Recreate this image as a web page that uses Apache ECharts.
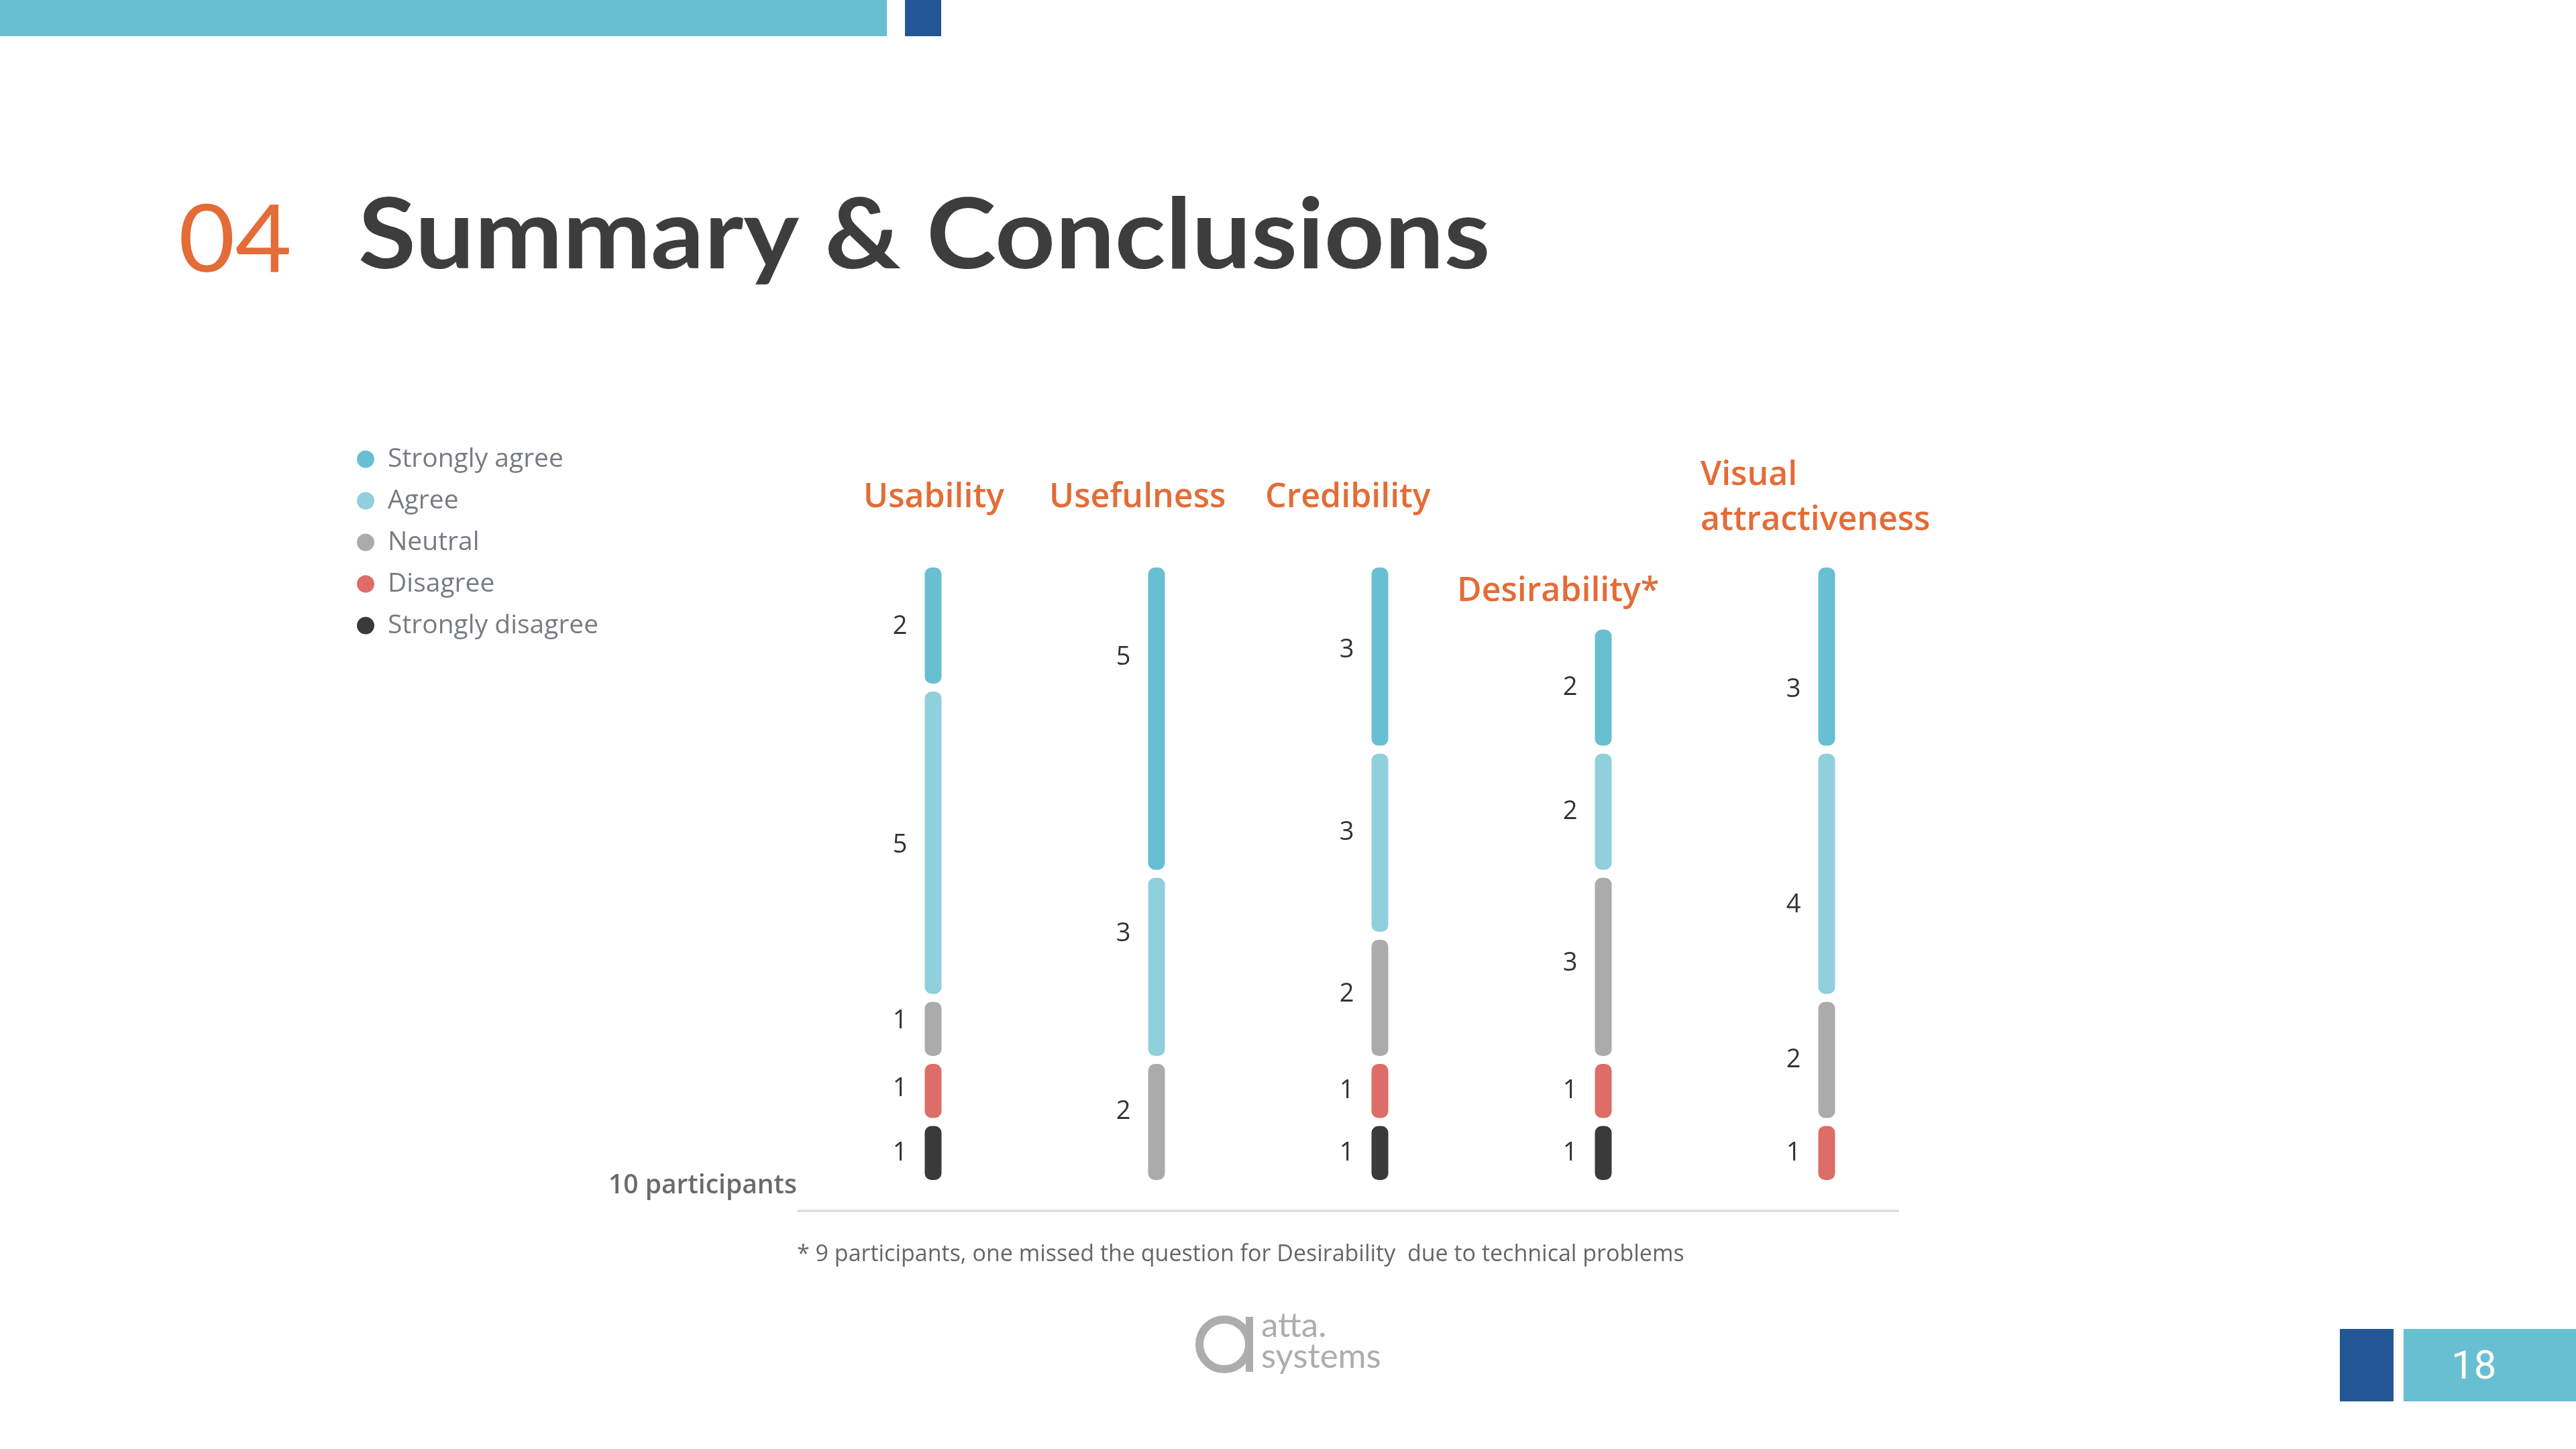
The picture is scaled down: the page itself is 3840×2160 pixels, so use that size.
<!DOCTYPE html>
<html>
<head>
<meta charset="utf-8">
<title>Summary & Conclusions</title>
<script src="https://cdn.jsdelivr.net/npm/echarts@6/dist/echarts.min.js"></script>
<style>
  html, body { margin: 0; padding: 0; background: #fff; }
  #chart { width: 3840px; height: 2160px; }
</style>
</head>
<body>
<div id="chart"></div>
<script>
// categories (left to right)
const categories = ["Usability", "Usefulness", "Credibility", "Desirability*", "Visual attractiveness"];

// answers per category, stacked from the bottom
const stronglyDisagree = [1, 0, 1, 1, 0];
const disagree = [1, 0, 1, 1, 1];
const neutral = [1, 2, 2, 3, 2];
const agree = [5, 3, 3, 2, 4];
const stronglyAgree = [2, 5, 3, 2, 3];

const legendOrder = ["Strongly agree", "Agree", "Neutral", "Disagree", "Strongly disagree"];

const orange = "#e36c37";
const cyan = "#68bfd1";
const navy = "#225694";

// the slide puts a few count labels a bit off the segment centre (px, per category)
const labelNudge = {
  "Strongly disagree": [0, 0, 0, 0, 0],
  "Disagree": [-3, 0, 0, 0, 0],
  "Neutral": [-12, -15, -5, -5, 0],
  "Agree": [4, -49, -15, 0, 47],
  "Strongly agree": [2, -91, -10, 0, 49],
};

const chart = echarts.init(document.getElementById("chart"));

function makeSeries(name, values, color) {
  return {
    name: name,
    type: "bar",
    stack: "total",
    barWidth: 37,
    // zero answers: nothing drawn, no label
    data: values.map((v, i) =>
      v === 0 ? null : { value: v, label: { offset: [0, labelNudge[name][i]] } }
    ),
    itemStyle: {
      color: color,
      borderColor: "#fff",
      borderWidth: 6,
      borderRadius: 13,
    },
    label: {
      show: true,
      position: "left",
      distance: 20,
      color: "#333",
      fontFamily: "Open Sans",
      fontSize: 38,
    },
    emphasis: { disabled: true },
  };
}

const titleFont = "600 50px 'Open Sans'";

const option = {
  animation: false,
  backgroundColor: "#fff",
  color: [cyan, "#8fd0dc", "#ababab", "#de6c67", "#3a3a3a"],
  legend: {
    data: legendOrder,
    orient: "vertical",
    left: 525,
    top: 660,
    icon: "circle",
    itemWidth: 28,
    itemHeight: 28,
    itemGap: 23,
    textStyle: {
      color: "#777b82",
      fontFamily: "Open Sans",
      fontSize: 39,
      padding: [0, 0, 0, 14],
    },
    selectedMode: false,
  },
  grid: {
    left: 1224.5,
    right: 950.5,
    top: 840,
    bottom: 395,
  },
  xAxis: {
    type: "category",
    data: categories,
    axisLine: { show: false },
    axisTick: { show: false },
    axisLabel: { show: false },
  },
  yAxis: {
    type: "value",
    min: 0,
    max: 10,
    show: false,
  },
  series: [
    makeSeries("Strongly disagree", stronglyDisagree, "#3a3a3a"),
    makeSeries("Disagree", disagree, "#de6c67"),
    makeSeries("Neutral", neutral, "#ababab"),
    makeSeries("Agree", agree, "#8fd0dc"),
    makeSeries("Strongly agree", stronglyAgree, cyan),
  ],
  graphic: [
    // top band
    { type: "rect", shape: { x: 0, y: 0, width: 1322, height: 54 }, style: { fill: cyan } },
    { type: "rect", shape: { x: 1349, y: 0, width: 54, height: 54 }, style: { fill: navy } },
    // heading
    {
      type: "text", x: 266, y: 290, scaleX: 1.04,
      style: { text: "04", fill: orange, font: "normal 140px Lato" },
    },
    {
      type: "text", x: 534, y: 280, scaleX: 1.075,
      style: { text: "Summary & Conclusions", fill: "#3d3d3d", font: "bold 146px Lato" },
    },
    // category titles
    { type: "text", left: 1287, top: 717, style: { text: "Usability", fill: orange, font: titleFont } },
    { type: "text", left: 1564, top: 717, style: { text: "Usefulness", fill: orange, font: titleFont } },
    { type: "text", left: 1886, top: 717, style: { text: "Credibility", fill: orange, font: titleFont } },
    { type: "text", left: 2172, top: 857, style: { text: "Desirability*", fill: orange, font: titleFont } },
    {
      type: "text", left: 2535, top: 675,
      style: { text: "Visual\nattractiveness", fill: orange, font: titleFont, lineHeight: 67 },
    },
    // baseline
    {
      type: "line",
      shape: { x1: 1188, y1: 1805, x2: 2831, y2: 1805 },
      style: { stroke: "#dadada", lineWidth: 3 },
    },
    {
      type: "text", right: 3840 - 1188, top: 1748,
      style: { text: "10 participants", fill: "#6b6b6b", font: "600 39px 'Open Sans'", textAlign: "right" },
    },
    {
      type: "text", left: 1188, top: 1853,
      style: {
        text: "* 9 participants, one missed the question for Desirability  due to technical problems",
        fill: "#666",
        font: "34px 'Open Sans'",
      },
    },
    // logo
    {
      type: "circle",
      shape: { cx: 1825, cy: 2004, r: 37 },
      style: { fill: "none", stroke: "#adadad", lineWidth: 12 },
    },
    { type: "rect", shape: { x: 1857, y: 1963, width: 11, height: 82 }, style: { fill: "#adadad" } },
    { type: "text", left: 1880, top: 1951, style: { text: "atta.", fill: "#adadad", font: "51px Lato" } },
    { type: "text", left: 1880, top: 1997, style: { text: "systems", fill: "#adadad", font: "51px Lato" } },
    // page number
    { type: "rect", shape: { x: 3488, y: 1981, width: 80, height: 108 }, style: { fill: navy } },
    { type: "rect", shape: { x: 3583, y: 1981, width: 257, height: 108 }, style: { fill: cyan } },
    {
      type: "text", left: 3654, top: 2010,
      style: { text: "18", fill: "#fff", font: "60px Roboto" },
    },
  ],
};

chart.setOption(option);
window.addEventListener("resize", () => {
  chart && chart.resize();
});
</script>
</body>
</html>
